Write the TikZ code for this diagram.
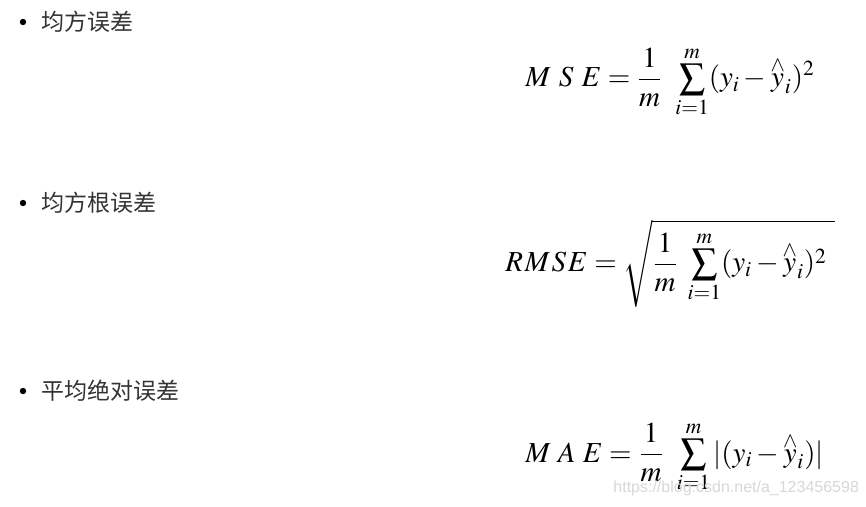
\documentclass[tikz,border=0pt]{standalone}
\usepackage{amsmath}
\usepackage{mathptmx}
\usepackage{graphicx}
\usepackage[no-math]{fontspec}
\setmainfont{Liberation Serif}
\newfontfamily\cjk{Noto Sans CJK SC}
\newfontfamily\wmfont{Liberation Sans}
\definecolor{txtgray}{HTML}{333333}
\definecolor{wmgray}{HTML}{D8D8D8}
\newcommand\yhat{\mathord{\vbox{\offinterlineskip\halign{\hfil##\hfil\cr$\scriptstyle\wedge$\cr\noalign{\kern1.2pt}$y$\cr}}}}
\newcommand\bigsum{\mathop{\vcenter{\hbox{\scalebox{0.88}{$\displaystyle\sum$}}}}\limits}
\begin{document}
\begin{tikzpicture}[x=0.5pt,y=-0.5pt,
  item/.style={anchor=west,inner sep=0pt,text=txtgray,font=\cjk\fontsize{11.5}{13}\selectfont},
  dot/.style={circle,fill=black,inner sep=0pt,minimum size=3.2pt},
  formula/.style={anchor=base west,inner sep=0pt,font=\fontsize{14.5}{17}\selectfont},
  wm/.style={anchor=base west,inner sep=0pt,text=wmgray,font=\wmfont\fontsize{8}{9}\selectfont}]
\useasboundingbox[fill=white] (0,0) rectangle (866,507);
\node[dot] (b1) at (23,22) {};
\node[item] (t1) at (41,22) {均方误差};
\node[dot] (b2) at (23,203) {};
\node[item] (t2) at (41,203) {均方根误差};
\node[dot] (b3) at (23,391) {};
\node[item] (t3) at (41,391) {平均绝对误差};
\node[formula] (f1) at (525,87) {$\displaystyle M\mkern5mu S\mkern5mu E=\frac{1}{m}\mkern6mu\bigsum_{i=1}^{m}(y_i-\yhat_i)^2$};
\node[formula] (f2) at (505,272) {$\displaystyle R\mkern1mu M\mkern1mu S\mkern1mu E=\sqrt{\frac{1}{m}\mkern4mu\bigsum_{i=1}^{m}(y_i-\yhat_i)^2\mkern5mu}$};
\node[formula] (f3) at (525,462) {$\displaystyle M\mkern4.5mu A\mkern4.5mu E=\frac{1}{m}\mkern6mu\bigsum_{i=1}^{m}|(y_i-\yhat_i)|$};
\node[wm] (w) at (613,492) {https://blog.csdn.net/a\_123456598};
\end{tikzpicture}
\end{document}
